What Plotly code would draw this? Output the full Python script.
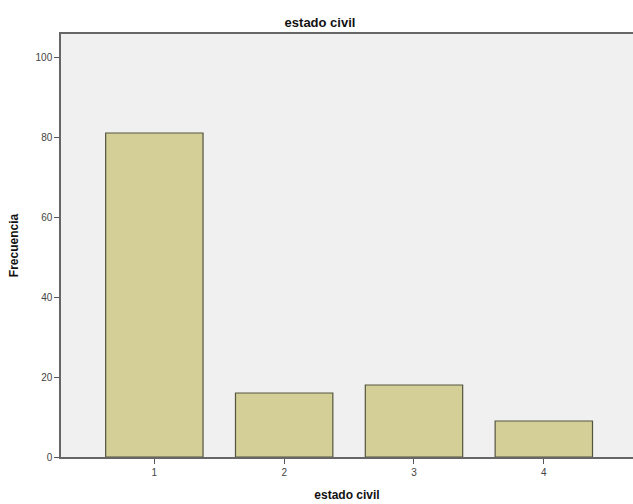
import plotly.graph_objects as go

categories = ["1", "2", "3", "4"]
frecuencia = [81, 16, 18, 9]
y_ticks = [0, 20, 40, 60, 80, 100]

fig = go.Figure()
fig.add_trace(go.Bar(
    x=[1, 2, 3, 4],
    y=frecuencia,
    width=0.75,
    marker=dict(color="#D3CF97", line=dict(color="#55553f", width=1.2)),
))

font = "Liberation Sans, Arial, sans-serif"
fig.update_layout(
    width=633, height=504,
    margin=dict(l=61, r=0, t=34, b=47),
    paper_bgcolor="white",
    plot_bgcolor="#F0F0F0",
    showlegend=False,
    font=dict(family=font, color="#333333", size=10),
    title=dict(text="<b>estado civil</b>", x=320/633, xanchor="center",
               y=1 - 22/504, yanchor="middle",
               font=dict(family=font, size=13, color="#111111")),
    bargap=0.25,
)
fig.update_xaxes(
    range=[0.281, 4.687],
    tickvals=[1, 2, 3, 4], ticktext=categories,
    ticks="outside", ticklen=5, tickcolor="#555555", tickwidth=1,
    showline=True, linecolor="#666666", linewidth=1.5, mirror=True,
    showgrid=False, zeroline=False,
    tickfont=dict(size=10, color="#444444"),
    title=dict(text="<b>estado civil</b>", standoff=14,
               font=dict(family=font, size=12, color="#111111")),
)
fig.update_yaxes(
    range=[0, 105.75],
    tickvals=y_ticks,
    ticks="outside", ticklen=5, tickcolor="#555555", tickwidth=1,
    showline=True, linecolor="#666666", linewidth=1.5,
    showgrid=False, zeroline=False,
    tickfont=dict(size=10, color="#444444"),
    title=dict(text="<b>Frecuencia</b>", standoff=14,
               font=dict(family=font, size=12, color="#111111")),
)
fig.write_html("out.html",
               config={"displayModeBar": False},
               post_script="document.body.style.margin='0';document.body.style.overflow='hidden';")
